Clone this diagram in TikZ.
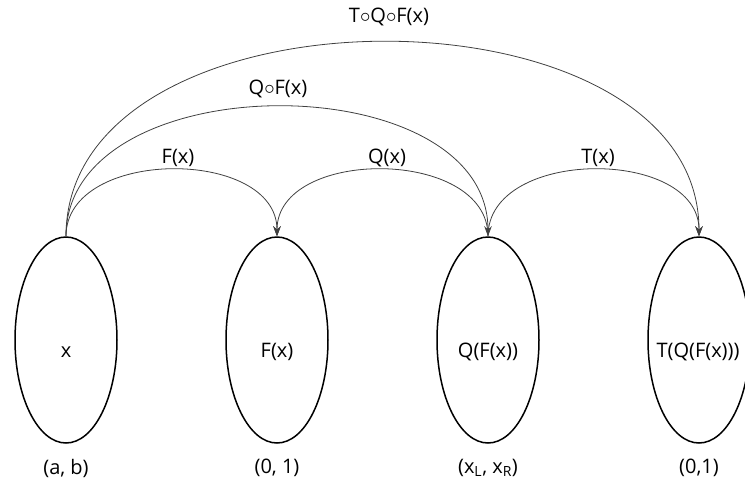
\documentclass[tikz,border=0pt]{standalone}
\usepackage{fontspec}
\setmainfont{Open Sans}
\usetikzlibrary{shapes.geometric,arrows.meta}
\begin{document}
\begin{tikzpicture}[x=1pt,y=-1pt,
  setnode/.style={draw=black,line width=1.5pt,ellipse,minimum width=102pt,minimum height=206pt,inner sep=0pt},
  lbl/.style={font=\fontsize{20}{23}\selectfont,inner sep=0pt,anchor=center},
  map/.style={draw=black!75,line width=0.8pt,-{Stealth[length=10pt,width=7.5pt]}}]
  \useasboundingbox (0,0) rectangle (745,488);
  % the four sets
  \node[setnode] (e1) at (66,340) {};
  \node[setnode] (e2) at (277,340) {};
  \node[setnode] (e3) at (488,340) {};
  \node[setnode] (e4) at (699,340) {};
  % contents
  \node[lbl] (t1) at (66,352) {x};
  \node[lbl] (t2) at (277,352) {F(x)};
  \node[lbl] (t3) at (488,352) {Q(F(x))};
  \node[lbl] (t4) at (698,352) {T(Q(F(x)))};
  % ranges
  \node[lbl] (r1) at (66,468) {(a, b)};
  \node[lbl] (r2) at (277,468) {(0, 1)};
  \node[lbl] (r3) at (488,468) {(x\textsubscript{L}, x\textsubscript{R})};
  \node[lbl] (r4) at (699,468) {(0,1)};
  % mappings
  \draw[map] (e1.north) .. controls +(0,-89) and +(0,-89) .. (e2.north);
  \draw[map] (e3.north) .. controls +(0,-89) and +(0,-89) .. (e2.north);
  \draw[map] (e3.north) .. controls +(0,-89) and +(0,-89) .. (e4.north);
  \draw[map] (e1.north) .. controls +(0,-173) and +(0,-173) .. (e3.north);
  \draw[map] (e1.north) .. controls +(0,-259) and +(0,-259) .. (e4.north);
  % mapping labels
  \node[lbl] (m1) at (178,158) {F(x)};
  \node[lbl] (m2) at (387,158) {Q(x)};
  \node[lbl] (m3) at (598,158) {T(x)};
  \node[lbl] (m4) at (278,89) {Q$\circ$F(x)};
  \node[lbl] (m5) at (389,17) {T$\circ$Q$\circ$F(x)};
\end{tikzpicture}
\end{document}
